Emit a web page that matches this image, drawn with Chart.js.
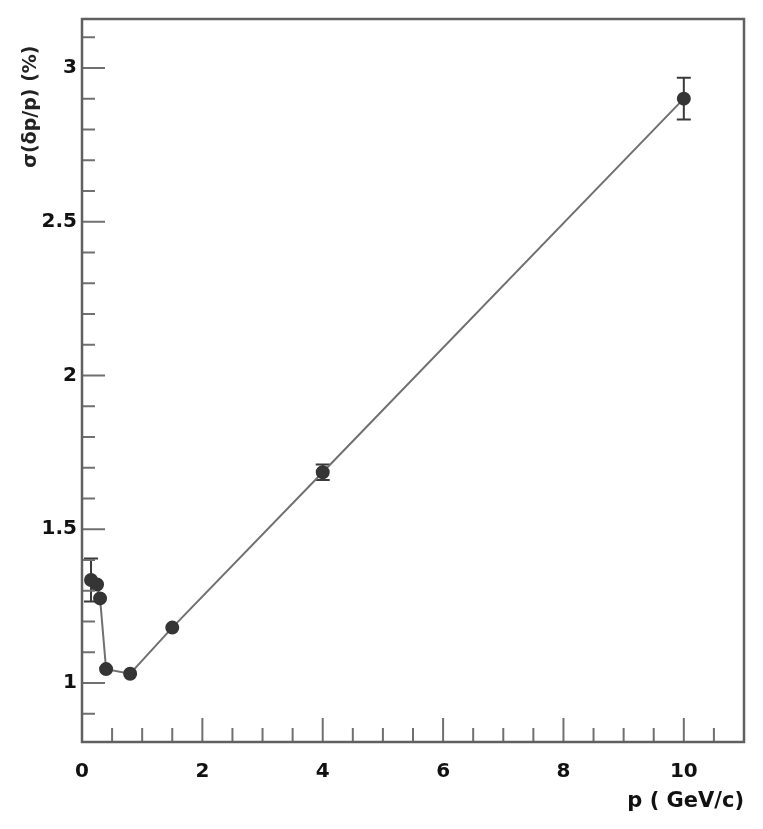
<!DOCTYPE html>
<html><head><meta charset="utf-8">
<script src="https://cdn.jsdelivr.net/npm/chart.js@4"></script>
<style>html,body{margin:0;padding:0;background:#fff}#wrap{width:763px;height:829px}canvas{filter:blur(0.45px)}</style>
</head><body><div id="wrap"><canvas id="c" width="763" height="829"></canvas></div>
<script>
// ---- data ----
const momentum = [0.15, 0.25, 0.3, 0.4, 0.8, 1.5, 4, 10];            // p (GeV/c)
const resolution = [1.335, 1.32, 1.275, 1.045, 1.03, 1.18, 1.685, 2.90]; // sigma(dp/p) (%)
const resolutionErr = [0.07, 0.015, 0.015, 0.01, 0.01, 0.01, 0.025, 0.068];
const xMajorTicks = [0, 2, 4, 6, 8, 10];
const xTickLabels = ['0', '2', '4', '6', '8', '10'];
const xMinorTicks = [0.5, 1, 1.5, 2.5, 3, 3.5, 4.5, 5, 5.5, 6.5, 7, 7.5, 8.5, 9, 9.5, 10.5];
const yMajorTicks = [1, 1.5, 2, 2.5, 3];
const yTickLabels = ['1', '1.5', '2', '2.5', '3'];
const yMinorTicks = [0.9, 1.1, 1.2, 1.3, 1.4, 1.6, 1.7, 1.8, 1.9, 2.1, 2.2, 2.3, 2.4, 2.6, 2.7, 2.8, 2.9, 3.1];
const xTitle = 'p ( GeV/c)';
const yTitle = 'σ(δp/p) (%)    ';

const points = momentum.map((x, i) => ({x: x, y: resolution[i]}));
const FONT = 'DejaVu Sans';

const rootStyle = {
  id: 'rootStyle',
  beforeDatasetsDraw(chart) {
    const {ctx, scales: {x, y}} = chart;
    ctx.save();
    ctx.strokeStyle = '#3a3a3a';
    ctx.lineWidth = 2;
    momentum.forEach((p, i) => {
      const px = x.getPixelForValue(p);
      const top = y.getPixelForValue(resolution[i] + resolutionErr[i]);
      const bot = y.getPixelForValue(resolution[i] - resolutionErr[i]);
      ctx.beginPath();
      ctx.moveTo(px, top); ctx.lineTo(px, bot);
      if (bot - top > 12) {
        ctx.moveTo(px - 7, top); ctx.lineTo(px + 7, top);
        ctx.moveTo(px - 7, bot); ctx.lineTo(px + 7, bot);
      }
      ctx.stroke();
    });
    ctx.restore();
  },
  afterDraw(chart) {
    const {ctx, chartArea: a, scales: {x, y}} = chart;
    ctx.save();
    ctx.strokeStyle = '#707070';
    ctx.lineWidth = 2;
    ctx.beginPath();
    xMajorTicks.forEach(v => { const p = x.getPixelForValue(v); ctx.moveTo(p, a.bottom); ctx.lineTo(p, a.bottom - 24); });
    xMinorTicks.forEach(v => { const p = x.getPixelForValue(v); ctx.moveTo(p, a.bottom); ctx.lineTo(p, a.bottom - 14); });
    yMajorTicks.forEach(v => { const p = y.getPixelForValue(v); ctx.moveTo(a.left, p); ctx.lineTo(a.left + 23, p); });
    yMinorTicks.forEach(v => { const p = y.getPixelForValue(v); ctx.moveTo(a.left, p); ctx.lineTo(a.left + 13, p); });
    ctx.stroke();
    ctx.strokeStyle = '#606060';
    ctx.lineWidth = 2.5;
    ctx.strokeRect(a.left, a.top, a.right - a.left, a.bottom - a.top);
    ctx.restore();
  }
};

new Chart(document.getElementById('c'), {
  type: 'scatter',
  data: {
    datasets: [{
      data: points,
      showLine: true,
      borderColor: '#707070',
      borderWidth: 2,
      pointRadius: 6,
      pointStyle: 'circle',
      pointBackgroundColor: '#353535',
      pointBorderColor: '#353535',
      tension: 0
    }]
  },
  options: {
    responsive: false,
    animation: false,
    devicePixelRatio: 1,
    layout: {padding: {left: 0, top: 19, right: 19, bottom: 0}},
    plugins: {legend: {display: false}, tooltip: {enabled: false}},
    scales: {
      x: {
        type: 'linear', min: 0, max: 11,
        afterBuildTicks: s => { s.ticks = xMajorTicks.map(v => ({value: v})); },
        afterFit: s => { s.height = 87; },
        grid: {display: false, drawTicks: false},
        border: {display: false},
        ticks: {
          padding: 18, color: '#111', maxRotation: 0, autoSkip: false,
          font: {family: FONT, size: 20, weight: 'bold'},
          callback: (v) => xTickLabels[xMajorTicks.indexOf(v)]
        },
        title: {
          display: true, text: xTitle, align: 'end', color: '#111',
          font: {family: FONT, size: 21, weight: 'bold'},
          padding: {top: 0, bottom: 15}
        }
      },
      y: {
        type: 'linear', min: 0.808, max: 3.159,
        afterBuildTicks: s => { s.ticks = yMajorTicks.map(v => ({value: v})); },
        afterFit: s => { s.width = 82; },
        grid: {display: false, drawTicks: false},
        border: {display: false},
        ticks: {
          padding: 5, color: '#111', autoSkip: false,
          font: {family: FONT, size: 20, weight: 'bold'},
          callback: (v) => yTickLabels[yMajorTicks.indexOf(v)]
        },
        title: {
          display: true, text: yTitle, align: 'end', color: '#222',
          font: {family: FONT, size: 19, weight: 'bold'},
          padding: {top: 20, bottom: 0}
        }
      }
    }
  },
  plugins: [rootStyle]
});
</script>
</body></html>
